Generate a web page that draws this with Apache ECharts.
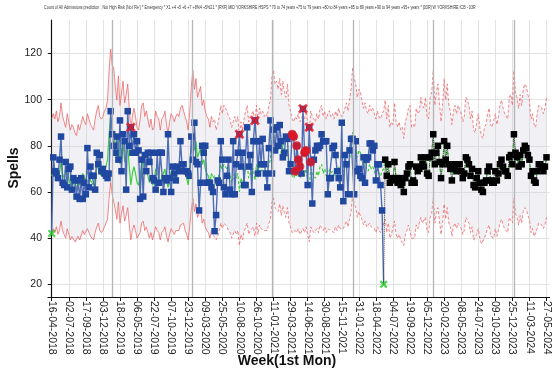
<!DOCTYPE html>
<html><head><meta charset="utf-8">
<script src="https://cdn.jsdelivr.net/npm/echarts@6/dist/echarts.min.js"></script>
<style>html,body{margin:0;padding:0;background:#fff}#c{width:552px;height:371px}</style>
</head><body><div id="c"></div>
<script>
const titleText = "Count of All Admissions prediction : Not High Risk (Not 'Re') * Emergency * X1 +4 +5 +6 +7 +8%4 +5%21 * [RXF] MID YORKSHIRE HSPS * 70 to 74 years +75 to 79 years +80 to 84 years +85 to 89 years +90 to 94 years +95+ years * [03R] W YORKSHIRE ICB - 03R";
const tickLabels = ['16-04-2018','02-07-2018','17-09-2018','03-12-2018','18-02-2019','06-05-2019','22-07-2019','07-10-2019','23-12-2019','09-03-2020','25-05-2020','10-08-2020','26-10-2020','11-01-2021','29-03-2021','14-06-2021','30-08-2021','15-11-2021','31-01-2022','18-04-2022','04-07-2022','19-09-2022','05-12-2022','20-02-2023','08-05-2023','24-07-2023','09-10-2023','25-12-2023','11-03-2024','27-05-2024'];
const tickWeeks = [0,11,22,33,44,55,66,77,88,99,110,121,132,143,154,165,176,187,198,209,220,231,242,253,264,275,286,297,308,319];
const yTicks = [20,40,60,80,100,120];
const yearLineWeeks = [39,90.4,142.4,194.4,246,298.2];

// weekly actual spells (week 0 = 16-04-2018)
const actual = [
42,75,69,68,66,74,84,64,63,73,
62,70,71,61,66,65,58,65,57,66,
57,64,59,79,62,71,67,67,61,77,
72,76,69,70,68,67,66,68,95,85,
80,77,84,74,91,69,85,82,61,95,
80,88,77,85,77,82,78,57,74,58,
76,69,77,73,77,66,65,61,77,64,
77,77,60,66,65,85,66,60,71,68,
65,71,69,82,72,72,69,69,68,67,
84,74,90,73,72,52,64,80,77,80,
64,64,64,62,60,43,50,65,64,82,
74,62,59,67,74,61,59,82,59,72,
77,85,71,77,63,63,88,71,76,60,
82,91,82,68,82,72,83,72,68,62,
79,91,68,87,78,88,80,89,82,75,
77,84,83,69,72,85,84,69,80,74,
71,68,96,77,78,63,88,73,55,74,
78,80,79,80,85,82,82,82,59,66,
66,79,80,76,69,66,62,90,56,76,
72,59,78,83,83,59,82,69,70,67,
66,75,64,74,75,81,81,78,80,65,
72,72,63,52,20];

// model prediction over the actual period
const predicted = [
67,69,67,70,66,68,73,68,66,64,
69,66,63,65,64,62,61,65,63,63,
68,66,65,69,67,65,64,63,67,70,
72,68,67,68,70,71,74,85,93,87,
86,79,74,83,72,77,81,73,76,80,
71,63,68,71,68,64,63,67,72,73,
68,70,70,64,67,63,64,70,68,67,
63,67,68,70,65,62,66,69,68,66,
68,69,68,71,72,72,68,66,63,70,
79,85,78,82,75,77,79,72,74,70,
68,67,64,68,66,67,63,65,68,72,
69,72,71,70,68,67,64,66,68,66,
68,60,66,63,67,70,72,66,68,69,
70,65,72,66,71,69,70,68,69,68,
72,74,83,85,80,81,78,82,76,81,
77,75,80,72,70,67,66,68,67,69,
66,67,69,67,70,66,62,70,68,67,
66,69,67,71,72,68,70,67,69,70,
68,69,67,70,68,71,69,68,69,71,
73,70,74,78,86,82,80,75,78,77,
74,71,73,70,69,72,70,71,69,67,
70,68,67,69,70];

// forecast (week 215 onwards)
const forecast = [
74,67,72,64,66,
65,73,66,64,66,63,64,60,66,68,
71,72,64,65,64,71,69,70,75,72,
71,75,68,67,75,77,85,72,77,80,
73,66,72,82,74,80,72,70,65,70,
72,69,72,72,69,66,68,75,74,72,
67,70,63,62,66,69,64,61,60,64,
65,69,71,65,64,64,69,65,68,72,
74,71,69,69,67,75,76,72,85,77,
75,71,76,72,78,80,79,76,74,67,
69,65,64,69,72,72,71,69,71,75];

const upper = [
91.6,93.9,91.6,95.1,90.4,92.7,98.6,92.7,90.4,88.0,
93.9,90.4,86.8,89.2,88.0,85.6,84.4,89.2,86.8,86.8,
92.7,90.4,89.2,93.9,91.6,89.2,88.0,86.8,91.6,95.1,
97.5,92.7,91.6,92.7,95.1,96.3,99.8,112.7,121.9,115.0,
113.8,105.7,99.8,110.3,97.5,103.3,108.0,98.6,102.2,106.8,
96.3,86.8,92.7,96.3,92.7,88.0,86.8,91.6,97.5,98.6,
92.7,95.1,95.1,88.0,91.6,86.8,88.0,95.1,92.7,91.6,
86.8,91.6,92.7,95.1,89.2,85.6,90.4,93.9,92.7,90.4,
92.7,93.9,92.7,96.3,97.5,97.5,92.7,90.4,86.8,95.1,
105.7,112.7,104.5,109.2,101.0,103.3,105.7,97.5,99.8,95.1,
92.7,91.6,88.0,92.7,90.4,91.6,86.8,89.2,92.7,97.5,
93.9,97.5,96.3,95.1,92.7,91.6,88.0,90.4,92.7,90.4,
92.7,83.2,90.4,86.8,91.6,95.1,97.5,90.4,92.7,93.9,
95.1,89.2,97.5,90.4,96.3,93.9,95.1,92.7,93.9,92.7,
97.5,99.8,110.3,112.7,106.8,108.0,104.5,109.2,102.2,108.0,
103.3,101.0,106.8,97.5,95.1,91.6,90.4,92.7,91.6,93.9,
90.4,91.6,93.9,91.6,95.1,90.4,85.6,95.1,92.7,91.6,
90.4,93.9,91.6,96.3,97.5,92.7,95.1,91.6,93.9,95.1,
92.7,93.9,91.6,95.1,92.7,96.3,93.9,92.7,93.9,96.3,
98.6,95.1,99.8,104.5,113.8,109.2,106.8,101.0,104.5,103.3,
99.8,96.3,98.6,95.1,93.9,97.5,95.1,96.3,93.9,91.6,
95.1,92.7,91.6,93.9,95.1,
99.8,91.6,97.5,88.0,90.4,
89.2,98.6,90.4,88.0,90.4,86.8,88.0,83.2,90.4,92.7,
96.3,97.5,88.0,89.2,88.0,96.3,93.9,95.1,101.0,97.5,
96.3,101.0,92.7,91.6,101.0,103.3,112.7,97.5,103.3,106.8,
98.6,90.4,97.5,109.2,99.8,106.8,97.5,95.1,89.2,95.1,
97.5,93.9,97.5,97.5,93.9,90.4,92.7,101.0,99.8,97.5,
91.6,95.1,86.8,85.6,90.4,93.9,88.0,84.4,83.2,88.0,
89.2,93.9,96.3,89.2,88.0,88.0,93.9,89.2,92.7,97.5,
99.8,96.3,93.9,93.9,91.6,101.0,102.2,97.5,112.7,103.3,
101.0,96.3,102.2,97.5,104.5,106.8,105.7,102.2,99.8,91.6,
93.9,89.2,88.0,93.9,97.5,97.5,96.3,93.9,96.3,101.0];

const lower = [
42.4,44.1,42.4,44.9,41.6,43.3,47.4,43.3,41.6,40.0,
44.1,41.6,39.2,40.8,40.0,38.4,37.6,40.8,39.2,39.2,
43.3,41.6,40.8,44.1,42.4,40.8,40.0,39.2,42.4,44.9,
46.5,43.3,42.4,43.3,44.9,45.7,48.2,57.3,64.1,59.0,
58.2,52.3,48.2,55.7,46.5,50.7,54.0,47.4,49.8,53.2,
45.7,39.2,43.3,45.7,43.3,40.0,39.2,42.4,46.5,47.4,
43.3,44.9,44.9,40.0,42.4,39.2,40.0,44.9,43.3,42.4,
39.2,42.4,43.3,44.9,40.8,38.4,41.6,44.1,43.3,41.6,
43.3,44.1,43.3,45.7,46.5,46.5,43.3,41.6,39.2,44.9,
52.3,57.3,51.5,54.8,49.0,50.7,52.3,46.5,48.2,44.9,
43.3,42.4,40.0,43.3,41.6,42.4,39.2,40.8,43.3,46.5,
44.1,46.5,45.7,44.9,43.3,42.4,40.0,41.6,43.3,41.6,
43.3,36.8,41.6,39.2,42.4,44.9,46.5,41.6,43.3,44.1,
44.9,40.8,46.5,41.6,45.7,44.1,44.9,43.3,44.1,43.3,
46.5,48.2,55.7,57.3,53.2,54.0,51.5,54.8,49.8,54.0,
50.7,49.0,53.2,46.5,44.9,42.4,41.6,43.3,42.4,44.1,
41.6,42.4,44.1,42.4,44.9,41.6,38.4,44.9,43.3,42.4,
41.6,44.1,42.4,45.7,46.5,43.3,44.9,42.4,44.1,44.9,
43.3,44.1,42.4,44.9,43.3,45.7,44.1,43.3,44.1,45.7,
47.4,44.9,48.2,51.5,58.2,54.8,53.2,49.0,51.5,50.7,
48.2,45.7,47.4,44.9,44.1,46.5,44.9,45.7,44.1,42.4,
44.9,43.3,42.4,44.1,44.9,
48.2,42.4,46.5,40.0,41.6,
40.8,47.4,41.6,40.0,41.6,39.2,40.0,36.8,41.6,43.3,
45.7,46.5,40.0,40.8,40.0,45.7,44.1,44.9,49.0,46.5,
45.7,49.0,43.3,42.4,49.0,50.7,57.3,46.5,50.7,53.2,
47.4,41.6,46.5,54.8,48.2,53.2,46.5,44.9,40.8,44.9,
46.5,44.1,46.5,46.5,44.1,41.6,43.3,49.0,48.2,46.5,
42.4,44.9,39.2,38.4,41.6,44.1,40.0,37.6,36.8,40.0,
40.8,44.1,45.7,40.8,40.0,40.0,44.1,40.8,43.3,46.5,
48.2,45.7,44.1,44.1,42.4,49.0,49.8,46.5,57.3,50.7,
49.0,45.7,49.8,46.5,51.5,53.2,52.3,49.8,48.2,42.4,
44.1,40.8,40.0,44.1,46.5,46.5,45.7,44.1,45.7,49.0];

const highOutlierWeeks = [51,121,131,162,166];
const runWeeks = [155,156,157,158,159,160,163,164,167];
const lowOutlierWeeks = [0,214];
const forecastStart = 215;
const solidUntil = 103;

// ---- build
const fitted = predicted.concat(forecast);
const toPairs = (arr, start) => arr.map((v, i) => [start + i, v]);
const solidPart = (arr) => toPairs(arr.slice(0, solidUntil + 1), 0);
const dashedPart = (arr) => toPairs(arr.slice(solidUntil), solidUntil);
const actualData = actual.map((v, i) => lowOutlierWeeks.includes(i) ? {value: [i, v], symbol: 'none'} : [i, v]);

const red = 'rgba(236,96,96,0.75)';
const green = '#3ccf3c';
const xPath = 'path://M2,0L5,3L8,0L10,2L7,5L10,8L8,10L5,7L2,10L0,8L3,5L0,2Z';

const chart = echarts.init(document.getElementById('c'), null, {renderer: 'canvas'});
chart.setOption({
  animation: false,
  textStyle: {fontFamily: 'Liberation Sans, Arial, sans-serif'},
  grid: {left: 48, right: 1, top: 20, bottom: 74, containLabel: false},
  graphic: [
    {type: 'text', x: 44, y: 4, scaleX: 0.59, style: {text: titleText, font: '6.2px Liberation Sans', fill: '#333'}},
    {type: 'text', x: 14, y: 168, rotation: Math.PI / 2, style: {text: 'Spells', font: 'bold 14px Liberation Sans', fill: '#111', textAlign: 'center', textVerticalAlign: 'middle'}},
    {type: 'text', x: 287, y: 361, style: {text: 'Week(1st Mon)', font: 'bold 14px Liberation Sans', fill: '#111', textAlign: 'center', textVerticalAlign: 'middle'}}
  ],
  xAxis: {
    type: 'value', min: -2.4, max: 321,
    axisLine: {lineStyle: {color: '#111', width: 1.2}},
    axisTick: {show: true, length: 4, customValues: tickWeeks, lineStyle: {color: '#111'}},
    axisLabel: {customValues: tickWeeks, rotate: -90, margin: 4, fontSize: 10.5, color: '#222',
      formatter: (v) => tickLabels[tickWeeks.indexOf(v)] || ''},
    splitLine: {show: true, lineStyle: {color: '#e2e2e2', width: 1}}
  },
  yAxis: {
    type: 'value', min: 14.5, max: 134.5,
    axisLine: {show: true, lineStyle: {color: '#111', width: 1.2}},
    axisTick: {show: true, length: 4, customValues: yTicks, lineStyle: {color: '#111'}},
    axisLabel: {customValues: yTicks, margin: 6, fontSize: 10.5, color: '#222'},
    splitLine: {show: true, lineStyle: {color: '#e2e2e2', width: 1}}
  },
  series: [
    {type: 'custom', data: [[0, 0]], silent: true, z: 1,
      renderItem: (params, api) => {
        const pts = [];
        for (let i = 0; i < upper.length; i++) pts.push(api.coord([i, upper[i]]));
        for (let i = lower.length - 1; i >= 0; i--) pts.push(api.coord([i, lower[i]]));
        return {type: 'polygon', shape: {points: pts}, style: {fill: 'rgba(205,205,222,0.3)'}};
      },
      markLine: {silent: true, symbol: 'none', label: {show: false}, lineStyle: {color: '#b5b5b5', width: 1.3, type: 'solid'},
        data: yearLineWeeks.map(w => ({xAxis: w}))}},
    {type: 'line', data: solidPart(upper), symbol: 'none', lineStyle: {color: red, width: 1}, z: 2},
    {type: 'line', data: solidPart(lower), symbol: 'none', lineStyle: {color: red, width: 1}, z: 2},
    {type: 'line', data: dashedPart(upper), symbol: 'none', lineStyle: {color: red, width: 1, type: [3, 2]}, z: 2},
    {type: 'line', data: dashedPart(lower), symbol: 'none', lineStyle: {color: red, width: 1, type: [3, 2]}, z: 2},
    {type: 'line', data: solidPart(fitted), symbol: 'none', lineStyle: {color: green, width: 1.2}, z: 3},
    {type: 'line', data: dashedPart(fitted), symbol: 'none', lineStyle: {color: green, width: 1.2, type: [3, 2]}, z: 3},
    {type: 'line', data: actualData, symbol: 'rect', symbolSize: 6.5, showAllSymbol: true,
      itemStyle: {color: '#2148a0'}, lineStyle: {color: '#4f6db3', width: 1.4}, z: 4},
    {type: 'line', data: [[actual.length - 1, actual[actual.length - 1]], [forecastStart, forecast[0]]], symbol: 'none',
      lineStyle: {color: '#333', width: 1, type: 'dotted'}, z: 4},
    {type: 'line', data: toPairs(forecast, forecastStart), symbol: 'rect', symbolSize: 6.5, showAllSymbol: true,
      itemStyle: {color: '#000'}, lineStyle: {color: '#333', width: 1, type: 'dotted'}, z: 5},
    {type: 'scatter', data: runWeeks.map(w => [w, actual[w]]), symbol: 'circle', symbolSize: 9, itemStyle: {color: '#e8141c'}, z: 6},
    {type: 'scatter', data: highOutlierWeeks.map(w => [w, actual[w]]), symbol: xPath, symbolSize: 10, itemStyle: {color: '#f01820'}, z: 7},
    {type: 'scatter', data: lowOutlierWeeks.map(w => [w, actual[w]]), symbol: xPath, symbolSize: 8, itemStyle: {color: '#22cc22'}, z: 7}
  ]
});
</script></body></html>
